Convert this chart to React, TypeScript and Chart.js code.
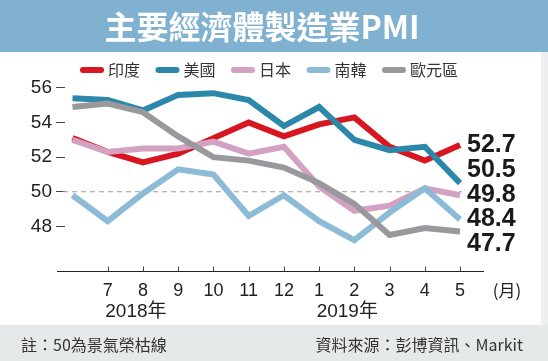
import React, { useEffect, useRef } from 'react';
import { Chart, registerables } from 'chart.js';

Chart.register(...registerables);

// ---- data ----
const months = ['6', '7', '8', '9', '10', '11', '12', '1', '2', '3', '4', '5'];
const india = [53.1, 52.3, 51.7, 52.2, 53.1, 54.0, 53.2, 53.9, 54.3, 52.6, 51.8, 52.7];
const usa = [55.4, 55.3, 54.7, 55.6, 55.7, 55.3, 53.8, 54.9, 53.0, 52.4, 52.6, 50.5];
const japan = [53.0, 52.3, 52.5, 52.5, 52.9, 52.2, 52.6, 50.3, 48.9, 49.2, 50.2, 49.8];
const korea = [49.8, 48.3, 49.9, 51.3, 51.0, 48.6, 49.8, 48.3, 47.2, 48.8, 50.2, 48.4];
const euro = [54.9, 55.1, 54.6, 53.2, 52.0, 51.8, 51.4, 50.5, 49.3, 47.5, 47.9, 47.7];
const seriesNames = ['印度', '美國', '日本', '南韓', '歐元區'];
const seriesValues = [india, usa, japan, korea, euro];
const seriesColors = ['#d7161f', '#2b88aa', '#d3a1c2', '#8cbbd7', '#99999d'];
const yTicks = [48, 50, 52, 54, 56];
const yearLabels = ['2018年', '2019年'];
const yearAnchors = [1.8, 7.8];
const refLine = 50;
const title = '主要經濟體製造業PMI';
const note = '註：50為景氣榮枯線';
const source = '資料來源：彭博資訊、Markit';
const unitLabel = '(月)';

const LATIN = "'Liberation Sans', 'Noto Sans CJK TC', sans-serif";
const CJK = "'Noto Sans CJK TC', 'Liberation Sans', sans-serif";

const decor = {
  id: 'decor',
  beforeDraw(chart: any) {
    const { ctx, width, height } = chart;
    ctx.save();
    ctx.fillStyle = '#ffffff';
    ctx.fillRect(0, 0, width, height);
    // right strip
    ctx.fillStyle = '#edeff0';
    ctx.fillRect(541, 0, width - 541, height);
    // banner
    ctx.fillStyle = '#80b1d0';
    ctx.fillRect(0, 0, width, 52);
    ctx.fillStyle = '#ffffff';
    ctx.font = `bold 32px ${CJK}`;
    ctx.textAlign = 'center';
    ctx.textBaseline = 'middle';
    ctx.fillText(title, 262, 27);
    // footer
    ctx.fillStyle = '#e6e9ea';
    ctx.fillRect(0, 325, width, height - 325);
    ctx.fillStyle = '#333333';
    ctx.font = `16px ${CJK}`;
    ctx.textAlign = 'left';
    ctx.fillText(note, 21, 345);
    ctx.textAlign = 'right';
    ctx.fillText(source, 523, 345);
    // legend
    let x = 80;
    ctx.font = `16px ${CJK}`;
    ctx.textAlign = 'left';
    seriesNames.forEach((name, i) => {
      ctx.fillStyle = seriesColors[i];
      ctx.beginPath();
      (ctx as any).roundRect(x, 67, 24, 6, 3);
      ctx.fill();
      ctx.fillStyle = '#333333';
      ctx.fillText(name, x + 28, 70);
      x += 28 + ctx.measureText(name).width + 15.5;
    });
    ctx.restore();
  },
  beforeDatasetsDraw(chart: any) {
    const { ctx, chartArea, scales } = chart;
    const xs = scales.x;
    const ys = scales.y;
    ctx.save();
    // reference dashed line
    const y50 = ys.getPixelForValue(refLine);
    ctx.strokeStyle = '#9a9a9a';
    ctx.lineWidth = 1;
    ctx.setLineDash([5, 4]);
    ctx.beginPath();
    ctx.moveTo(chartArea.left - 2, y50);
    ctx.lineTo(xs.getPixelForValue(months.length - 1) + 2, y50);
    ctx.stroke();
    ctx.setLineDash([]);
    // x axis line
    const yb = Math.round(chartArea.bottom) + 0.5;
    ctx.strokeStyle = '#222222';
    ctx.beginPath();
    ctx.moveTo(chartArea.left - 8, yb);
    ctx.lineTo(chartArea.right, yb);
    ctx.stroke();
    // x tick marks (inward)
    ctx.strokeStyle = '#444444';
    for (let i = 1; i < months.length; i++) {
      const px = Math.round(xs.getPixelForValue(i)) + 0.5;
      ctx.beginPath();
      ctx.moveTo(px, yb);
      ctx.lineTo(px, yb - 5);
      ctx.stroke();
    }
    ctx.restore();
  },
  afterDatasetsDraw(chart: any) {
    const { ctx, chartArea, scales } = chart;
    const xs = scales.x;
    const ys = scales.y;
    ctx.save();
    // end labels with collision avoidance
    const last = months.length - 1;
    const gap = 24.5;
    const items = seriesValues
      .map((vals) => ({ v: vals[last], y: ys.getPixelForValue(vals[last]) }))
      .sort((a, b) => a.y - b.y);
    let groups: { items: any[]; center: number }[] = [];
    items.forEach((it) => {
      groups.push({ items: [it], center: it.y });
      let merged = true;
      while (merged && groups.length > 1) {
        merged = false;
        const g = groups[groups.length - 1];
        const p = groups[groups.length - 2];
        const pBottom = p.center + ((p.items.length - 1) / 2) * gap;
        const gTop = g.center - ((g.items.length - 1) / 2) * gap;
        if (gTop - pBottom < gap) {
          const all = p.items.concat(g.items);
          const c = all.reduce((s, q) => s + q.y, 0) / all.length;
          groups.splice(groups.length - 2, 2, { items: all, center: c });
          merged = true;
        }
      }
    });
    const lx = xs.getPixelForValue(last) + 7;
    ctx.fillStyle = '#1a1a1a';
    ctx.font = `bold 25px ${LATIN}`;
    ctx.textAlign = 'left';
    ctx.textBaseline = 'middle';
    groups.forEach((g) => {
      g.items.forEach((it, k) => {
        const yy = g.center - ((g.items.length - 1) / 2) * gap + k * gap;
        ctx.fillText(it.v.toFixed(1), lx, yy);
      });
    });
    // year labels
    ctx.fillStyle = '#222222';
    ctx.font = `19px ${LATIN}`;
    ctx.textAlign = 'center';
    yearLabels.forEach((t, i) => {
      ctx.fillText(t, xs.getPixelForValue(yearAnchors[i]), chartArea.bottom + 41);
    });
    // unit label
    ctx.font = `17px ${CJK}`;
    ctx.textAlign = 'center';
    ctx.fillText(unitLabel, 507, chartArea.bottom + 20);
    ctx.restore();
  },
};

export default function App() {
  const ref = useRef<HTMLCanvasElement | null>(null);
  useEffect(() => {
    if (!ref.current) return;
    const chart = new Chart(ref.current, {
      type: 'line',
      data: {
        datasets: seriesValues.map((vals, i) => ({
          label: seriesNames[i],
          data: vals.map((v, k) => ({ x: k, y: v })),
          borderColor: seriesColors[i],
          backgroundColor: seriesColors[i],
          borderWidth: 6,
          pointRadius: 0,
          fill: false,
          tension: 0,
          clip: false as any,
          order: seriesNames.length - i,
        })),
      },
      options: {
        animation: false,
        responsive: false,
        events: [],
        layout: { padding: { left: 0, right: 64, top: 80, bottom: 60 } },
        plugins: { legend: { display: false }, tooltip: { enabled: false }, title: { display: false } },
        scales: {
          x: {
            type: 'linear',
            bounds: 'data',
            min: -0.213,
            max: 11.68,
            afterBuildTicks: (s: any) => {
              s.ticks = months.map((_, i) => ({ value: i })).slice(1);
            },
            afterFit: (s: any) => {
              s.height = 30;
            },
            ticks: {
              autoSkip: false,
              maxRotation: 0,
              padding: 9,
              color: '#222222',
              font: { size: 18, family: LATIN },
              callback: (v: any) => months[Math.round(Number(v))],
            },
            grid: { display: false, drawTicks: false },
            border: { display: false },
          },
          y: {
            type: 'linear',
            bounds: 'data',
            min: 45.42,
            max: 56.46,
            afterBuildTicks: (s: any) => {
              s.ticks = yTicks.map((v) => ({ value: v }));
            },
            afterFit: (s: any) => {
              s.width = 65;
            },
            ticks: {
              padding: 4,
              color: '#222222',
              font: { size: 19, family: LATIN },
              callback: (v: any) => String(v),
            },
            grid: { drawOnChartArea: false, drawTicks: true, tickLength: 9, color: '#444444', lineWidth: 1 },
            border: { display: false },
          },
        },
      },
      plugins: [decor],
    } as any);
    return () => chart.destroy();
  }, []);
  return (
    <div style={{ position: 'fixed', left: 0, top: 0, width: 548, height: 361 }}>
      <canvas ref={ref} width={548} height={361} style={{ display: 'block' }} />
    </div>
  );
}
